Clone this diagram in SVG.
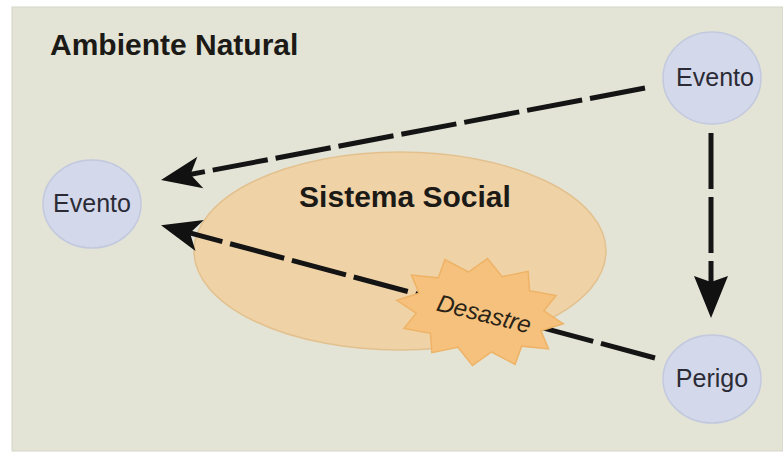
<svg xmlns="http://www.w3.org/2000/svg" width="783" height="453" viewBox="0 0 783 453">
  <defs>
    <style>
      .node { fill: #d3d8ea; stroke: #c3c9de; stroke-width: 1.5; }
      .lbl { font-family: "Liberation Sans", Arial, sans-serif; font-size: 25px; fill: #2b2b36; text-anchor: middle; }
      .title { font-family: "Liberation Sans", Arial, sans-serif; font-size: 30px; font-weight: bold; fill: #1c1a16; }
      .conn { fill: none; stroke: #141414; stroke-width: 5; stroke-dasharray: 56 8; }
    </style>
    <marker id="arrowL" markerUnits="userSpaceOnUse" markerWidth="50" markerHeight="40" viewBox="-42 -20 44 40" refX="-24" refY="0" orient="auto">
      <path d="M0,0 L-40,-16 L-30,0 L-40,16 Z" fill="#111"/>
    </marker>
    <marker id="arrowD" markerUnits="userSpaceOnUse" markerWidth="50" markerHeight="40" viewBox="-46 -20 48 40" refX="-24" refY="0" orient="auto">
      <path d="M0,0 L-42,-17 L-36,0 L-42,17 Z" fill="#111"/>
    </marker>
  </defs>

  <rect x="0" y="0" width="783" height="453" fill="#ffffff"/>
  <rect id="ambiente" x="12" y="7" width="771" height="444" fill="#e3e4d6" stroke="#d4d5c8" stroke-width="1"/>
  <text class="title" x="50" y="55">Ambiente Natural</text>

  <g id="sistema-social">
    <ellipse cx="400" cy="251" rx="206" ry="99" fill="#efd2a6" stroke="#e3c18f" stroke-width="1.5"/>
    <text class="title" x="405" y="207" text-anchor="middle">Sistema Social</text>
  </g>

  <g id="connectors">
    <path class="conn" d="M645,88 L184.6,175.5" marker-end="url(#arrowL)"/>
    <path class="conn" d="M655,358 L184.2,231.4" marker-end="url(#arrowL)"/>
    <path class="conn" d="M711,133 L711,294" marker-end="url(#arrowD)"/>
  </g>

  <g id="desastre">
    <polygon points="564,312 543,322 553,339 526,340 522,359 497,350 480,366 463,350 438,359 434,340 407,339 417,322 396,312 417,302 407,285 434,284 438,265 463,274 480,258 497,274 522,265 526,284 553,285 543,302" fill="#f6c17c" stroke="#eeb366" stroke-width="1.5" transform="rotate(8 480 312)"/>
    <text x="484" y="322" font-family="Liberation Sans, Arial, sans-serif" font-size="24" font-style="italic" fill="#2a2418" text-anchor="middle" transform="rotate(14 484 314)">Desastre</text>
  </g>

  <g id="evento-top">
    <ellipse class="node" cx="712" cy="78" rx="49" ry="46"/>
    <text class="lbl" x="715" y="86">Evento</text>
  </g>
  <g id="evento-left">
    <ellipse class="node" cx="92" cy="204" rx="49" ry="44"/>
    <text class="lbl" x="92" y="212">Evento</text>
  </g>
  <g id="perigo">
    <ellipse class="node" cx="712" cy="379" rx="49" ry="44"/>
    <text class="lbl" x="712" y="387">Perigo</text>
  </g>
</svg>
